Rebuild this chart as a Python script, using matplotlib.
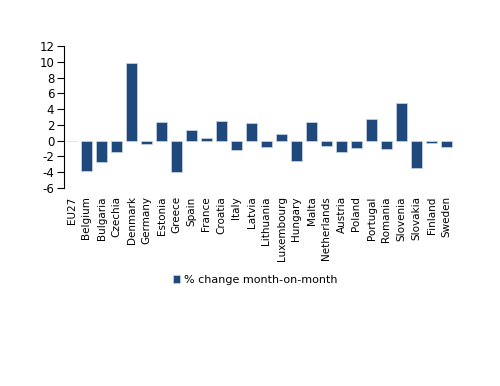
import matplotlib
matplotlib.use("Agg")
import matplotlib.pyplot as plt
import numpy as np

countries = ["EU27", "Belgium", "Bulgaria", "Czechia", "Denmark", "Germany", "Estonia",
             "Greece", "Spain", "France", "Croatia", "Italy", "Latvia", "Lithuania",
             "Luxembourg", "Hungary", "Malta", "Netherlands", "Austria", "Poland",
             "Portugal", "Romania", "Slovenia", "Slovakia", "Finland", "Sweden"]
mom_change = [-0.05, -3.9, -2.7, -1.4, 9.9, -0.4, 2.4, -4.0, 1.35, 0.35, 2.5, -1.2,
              2.25, -0.85, 0.85, -2.55, 2.3, -0.7, -1.4, -0.9, 2.7, -1.0, 4.75, -3.45,
              -0.3, -0.85]
yticks = np.arange(-6, 13, 2)

plt.rcParams['font.family'] = ['DejaVu Sans']
fig = plt.figure(figsize=(5, 3.86), dpi=100)
ax = fig.add_axes([0.128, 0.513, 0.78, 0.368])

x = np.arange(len(countries))
bars = ax.bar(x, mom_change, width=0.78, color="#1f497d", edgecolor="#c9d6e6",
              linewidth=0.5, label="% change month-on-month")

ax.set_xlim(-0.5, len(countries) - 0.5)
ax.set_ylim(-6, 12)
ax.set_yticks(yticks)
ax.set_yticklabels([str(v) for v in yticks], fontsize=8.5)
ax.set_xticks(x)
ax.set_xticklabels(countries, rotation=90, fontsize=7.5, va="top")
ax.tick_params(axis="x", length=0, pad=6)
ax.tick_params(axis="y", direction="out", length=5, width=0.8, pad=2)
for s in ["top", "right", "bottom"]:
    ax.spines[s].set_visible(False)
ax.spines["left"].set_linewidth(0.8)

fig.legend(handles=[bars], loc="center", bbox_to_anchor=(0.51, 0.275), frameon=False,
           fontsize=8, handlelength=0.7, handleheight=0.7, handletextpad=0.3)

fig.savefig("out.png", dpi=100)
